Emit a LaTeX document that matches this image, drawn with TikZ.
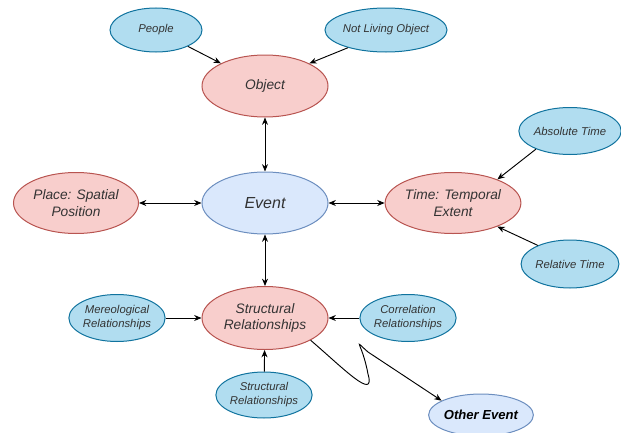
\documentclass[tikz,border=0pt]{standalone}
\usepackage{fontspec}
\setmainfont{Liberation Sans}
\usetikzlibrary{shapes.geometric,arrows.meta}
\definecolor{redfill}{HTML}{F8CECC}
\definecolor{reddraw}{HTML}{B85450}
\definecolor{bluefill}{HTML}{B1DDF0}
\definecolor{bluedraw}{HTML}{10739E}
\definecolor{evfill}{HTML}{DAE8FC}
\definecolor{evdraw}{HTML}{6C8EBF}
\definecolor{txt}{HTML}{333333}
\tikzset{
  base/.style={ellipse, inner sep=0pt, line width=0.75pt, align=center, text=txt, font=\itshape},
  sz/.style 2 args={minimum width=#1*0.75pt, minimum height=#2*0.75pt},
  mainnode/.style={base, fill=redfill, draw=reddraw, font=\itshape\fontsize{10.3}{12.5}\selectfont},
  subnode/.style={base, fill=bluefill, draw=bluedraw, font=\itshape\fontsize{8.5}{10.5}\selectfont},
  evnode/.style={base, fill=evfill, draw=evdraw},
  conn/.style={line width=0.7pt, draw=black, -{Stealth[length=5.5pt,width=4.5pt]}},
  bconn/.style={line width=0.7pt, draw=black, {Stealth[length=5.5pt,width=4.5pt]}-{Stealth[length=5.5pt,width=4.5pt]}}
}
\begin{document}
\begin{tikzpicture}[x=0.75pt,y=-0.75pt]
\useasboundingbox (0,0) rectangle (621,432);
% main nodes
\node[mainnode, sz={126}{62}] (obj) at (265,86) {Object};
\node[evnode, sz={126}{62}, font=\itshape\fontsize{12}{14}\selectfont] (ev) at (265,203) {Event};
\node[mainnode, sz={125}{61}] (place) at (76,203) {Place: Spatial\\Position};
\node[mainnode, sz={126}{61}] (time) at (453,203) {Time: Temporal\\Extent};
\node[mainnode, sz={126}{63}] (sr) at (265,318) {Structural\\Relationships};
% sub nodes
\node[subnode, sz={92}{44}] (people) at (156,30) {People};
\node[subnode, sz={93}{44}] (nlo) at (386,30) {Not Living Object};
\node[subnode, sz={84}{47}] (abs) at (570,131) {Absolute Time};
\node[subnode, sz={84}{48}] (rel) at (570,264) {Relative Time};
\node[subnode, sz={90}{47}] (mer) at (117,318) {Mereological\\Relationships};
\node[subnode, sz={87}{47}] (cor) at (408,318) {Correlation\\Relationships};
\node[subnode, sz={88}{46}] (stb) at (264,395) {Structural\\Relationships};
\node[evnode, sz={82}{42}, text=black, font=\bfseries\itshape\fontsize{9.8}{12}\selectfont] (oe) at (481,415) {Other Event};
% connectors
\draw[conn] (people) -- (obj);
\draw[conn] (nlo.205) -- (obj.27);
\draw[bconn] (obj) -- (ev);
\draw[bconn] (place) -- (ev);
\draw[bconn] (ev) -- (time);
\draw[conn] (abs.208) -- (time.28);
\draw[conn] (rel.150) -- (time.332);
\draw[bconn] (ev) -- (sr);
\draw[conn] (mer) -- (sr);
\draw[conn] (cor) -- (sr);
\draw[conn] (stb) -- (sr);
\coordinate (w1) at (368,374);
\coordinate (w2) at (368,352);
\draw[conn] (sr.334) .. controls (343,368) and (376,402) .. (w1)
  .. controls (362,342) and (352,338) .. (w2) -- (oe.160);
\end{tikzpicture}
\end{document}
